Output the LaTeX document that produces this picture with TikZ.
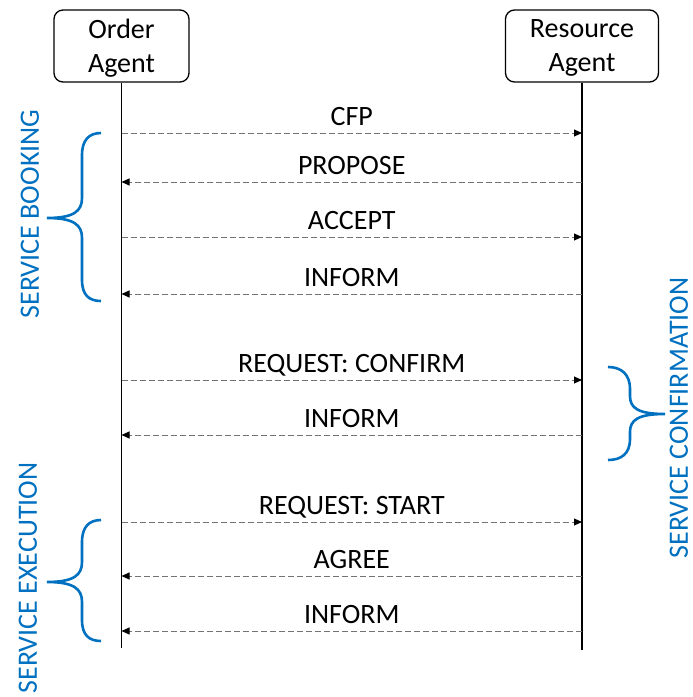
\documentclass[tikz,border=0pt]{standalone}
\usepackage{fontspec}
\setmainfont{Carlito}
\usetikzlibrary{arrows.meta}
\definecolor{phaseblue}{RGB}{0,112,192}

\begin{document}
\begin{tikzpicture}[x=1pt, y=-1pt,
    every node/.style = {font=\fontsize{28}{34}\selectfont},
    agent/.style = {draw, line width=1.3pt, rounded corners=9pt, align=center, minimum height=72pt, inner sep=0pt, text depth=0pt},
    lifeline/.style = {line width=1.3pt},
    msg/.style = {black!55, line width=0.9pt, dash pattern=on 6pt off 3pt, -{Triangle[length=8pt, width=7pt, color=black]}},
    lbl/.style = {midway, above=7pt, inner sep=0pt, text depth=0pt, black},
    phase/.style = {text=phaseblue, rotate=90, inner sep=0pt, font=\fontsize{28}{33}\selectfont},
    phasebrace/.style = {phaseblue, line width=2.6pt}]
    \useasboundingbox (0,0) rectangle (693,697);

    % agents and lifelines
    \node[agent, minimum width=135pt] (order) at (121.5,46) {Order\\Agent};
    \node[agent, minimum width=153pt] (resource) at (582,46) {Resource\\Agent};
    \coordinate (oend) at (order.south |- 0,648);
    \coordinate (rend) at (resource.south |- 0,650);
    \draw[lifeline] (order) -- (oend);
    \draw[lifeline] (resource) -- (rend);

    \foreach \n/\y in {1/133, 2/182, 3/237, 4/294, 5/380, 6/435, 7/522, 8/576, 9/631} {
        \coordinate (o\n) at (order.south |- 0,\y);
        \coordinate (r\n) at (resource.south |- 0,\y);
    }

    % messages
    \draw[msg] (o1) -- node[lbl] {CFP} (r1);
    \draw[msg] (r2) -- node[lbl] {PROPOSE} (o2);
    \draw[msg] (o3) -- node[lbl] {ACCEPT} (r3);
    \draw[msg] (r4) -- node[lbl] {INFORM} (o4);
    \draw[msg] (o5) -- node[lbl] {REQUEST: CONFIRM} (r5);
    \draw[msg] (r6) -- node[lbl] {INFORM} (o6);
    \draw[msg] (o7) -- node[lbl] {REQUEST: START} (r7);
    \draw[msg] (r8) -- node[lbl] {AGREE} (o8);
    \draw[msg] (r9) -- node[lbl] {INFORM} (o9);

    % phases
    \draw[phasebrace] (101,133) .. controls (89,133) and (82,140) .. (82,155) -- (82,198)
        .. controls (82,211) and (74,218) .. (47,218)
        .. controls (74,218) and (82,225) .. (82,238) -- (82,280)
        .. controls (82,295) and (89,301) .. (101,301);
    \draw[phasebrace] (608,367) .. controls (621,367) and (630,374) .. (630,389) -- (630,396)
        .. controls (630,408) and (638,414) .. (665,414)
        .. controls (638,414) and (630,420) .. (630,432) -- (630,439)
        .. controls (630,454) and (621,460) .. (608,460);
    \draw[phasebrace] (101,520) .. controls (89,520) and (82,527) .. (82,542) -- (82,562)
        .. controls (82,575) and (74,582) .. (47,582)
        .. controls (74,582) and (82,589) .. (82,602) -- (82,620)
        .. controls (82,635) and (89,641) .. (101,641);
    \node[phase] (booking) at (30,214) {SERVICE BOOKING};
    \node[phase] (confirmation) at (679,418) {SERVICE CONFIRMATION};
    \node[phase] (execution) at (28,578) {SERVICE EXECUTION};
\end{tikzpicture}
\end{document}
